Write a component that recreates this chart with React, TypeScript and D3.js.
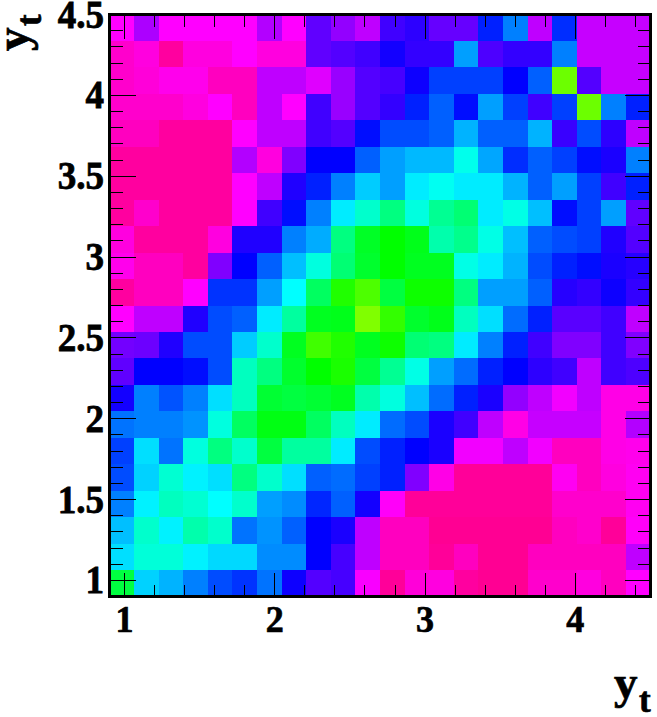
import React from "react";
import * as d3 from "d3";

const W = 657;
const H = 717;
const X_MIN = 0.9;
const X_MAX = 4.5;
const N_BINS = 22;

// Palette position per bin, rows from the top of the plot (y = 4.5) to the bottom (y = 0.9)
const row00 = [2, 3.3, 2, 2, 2, 2, 3.2, 2, 4.5, 3.7, 3, 5, 5.3, 4.4, 4.4, 6.5, 8, 3, 6.7, 2.9, 2.9, 2.9];
const row01 = [1.2, 1.5, 0.5, 1.5, 1.5, 2, 1.5, 1.5, 4.5, 4.7, 5, 5.7, 5.2, 5.2, 8.5, 4.8, 5.2, 5.2, 8, 2.9, 2.9, 2.9];
const row02 = [1.2, 1.4, 1.7, 1.7, 1, 1, 3, 3, 2.5, 3.6, 4.7, 4.9, 5.8, 7, 7, 7, 6, 7.5, 15.7, 4.7, 2.9, 2.9];
const row03 = [1.2, 1.2, 1.2, 1.5, 2, 1, 3, 2, 5, 3.6, 4.7, 5.2, 6.5, 7.5, 6.2, 8.5, 7, 5, 7, 15.7, 8, 6.5];
const row04 = [1, 1, 0.5, 0.5, 0.5, 2, 3, 3, 5, 4.7, 6.2, 7.2, 7.2, 7.5, 8.8, 7.5, 7.5, 8.8, 5.1, 7.2, 5.3, 3];
const row05 = [0.5, 0.5, 0.5, 0.5, 0.5, 3.2, 1.5, 4, 6, 6, 7.5, 8.5, 8.9, 8.9, 10.3, 8.6, 6.7, 7.5, 7, 6.2, 5.6, 8];
const row06 = [0.5, 0.5, 0.5, 0.5, 0.5, 2, 3, 5.5, 6.5, 8, 9.2, 8.5, 9.7, 10.2, 9.7, 9.7, 8.8, 7.5, 8.5, 7, 5, 6.5];
const row07 = [0.5, 1.2, 0.5, 0.5, 0.5, 2, 5, 6.2, 8, 9.7, 10.8, 12, 10.5, 11.7, 12.2, 9.7, 10.4, 9, 6.2, 7, 8.5, 4.5];
const row08 = [1.5, 0.5, 0.5, 0.5, 1.5, 5.5, 5.5, 8, 8.7, 12, 13.4, 14, 13.6, 11.3, 11.8, 10.4, 9, 7.5, 7.2, 7, 5.5, 4.7];
const row09 = [1.7, 1, 1, 0.5, 4, 6, 7.5, 9, 10.5, 12.2, 13.3, 14, 13.5, 13.5, 10.4, 9.7, 8.8, 7.2, 6.5, 6.2, 5.6, 5.4];
const row10 = [0.5, 1, 1, 2, 6.8, 6.8, 8.5, 10, 12.5, 14.5, 15.2, 13, 14.2, 14.2, 12, 8.5, 8.5, 7.5, 5.4, 5.2, 5.8, 5.2];
const row11 = [2, 3, 3, 5.5, 7.2, 7.5, 9.7, 11.5, 13.5, 13.6, 16, 14.8, 13.3, 13.6, 11, 9.5, 7.7, 6.5, 4.6, 4.6, 5, 3];
const row12 = [4.2, 4.3, 5.5, 7.2, 7.2, 9.2, 10.8, 13.5, 15, 14.5, 13.5, 14.2, 12.2, 12, 9.7, 8, 6.5, 5, 4, 4, 5, 4];
const row13 = [4.5, 6, 6, 6.2, 7.2, 11, 12, 13.3, 14, 14.4, 13, 11.7, 10.4, 8.5, 7.7, 6.5, 6, 5.3, 5, 3, 5, 4.8];
const row14 = [5.7, 8, 7.3, 8, 9.5, 11, 13.2, 13, 13.2, 13.5, 11.3, 10.5, 9, 7.7, 6.5, 5.6, 3.7, 3, 2.2, 3, 1.6, 1.6];
const row15 = [7.8, 8, 8, 8.3, 10.5, 12.5, 13.7, 13.7, 12.5, 11, 9.7, 7.7, 7.2, 5.6, 5, 3, 1.6, 2.9, 2.9, 2.9, 1.6, 3.2];
const row16 = [7, 9.5, 7.8, 10.5, 12, 10.8, 13, 11.5, 11.5, 9.7, 7.2, 6.5, 6, 5.6, 2.2, 2.2, 3, 2.2, 1, 1, 1.6, 1.7];
const row17 = [7.2, 9.3, 10.7, 9.8, 9.5, 12, 10.8, 9.5, 7.5, 7.7, 7, 6.5, 4, 1.6, 0.4, 0.4, 0.4, 0.4, 1.8, 1, 1.5, 1.8];
const row18 = [8, 9.8, 11, 10.7, 10, 10.8, 8.5, 8.2, 6.6, 7.5, 5.7, 1.9, 0.4, 0.4, 0.4, 0.4, 0.4, 0.4, 1.2, 1.2, 1.2, 1.8];
const row19 = [9, 10.8, 9.8, 11.3, 10.8, 7.8, 8.3, 7.5, 6, 5.6, 3, 1, 1, 0.3, 0.3, 0.3, 0.3, 0.3, 1, 1.2, 0.4, 1.9];
const row20 = [9.5, 10.6, 10.6, 9.8, 9.4, 9.4, 8.2, 8.2, 6, 4.9, 3, 1, 1, 0.4, 1, 0.3, 0.3, 1, 1, 1, 1, 3];
const row21 = [13, 9.3, 8.8, 8, 7.2, 6.8, 7.8, 5.8, 4.7, 4.9, 2.1, 0.4, 1.4, 1.5, 0.5, 0.3, 0.3, 1.2, 1.2, 1.5, 1, 2];
const rows = [row00, row01, row02, row03, row04, row05, row06, row07, row08, row09, row10, row11, row12, row13, row14, row15, row16, row17, row18, row19, row20, row21];

const xTickLabels = [1, 2, 3, 4];
const yTickLabels = ["1", "1.5", "2", "2.5", "3", "3.5", "4", "4.5"];

const FONT = "'Liberation Serif', 'Times New Roman', serif";

const x = d3.scaleLinear().domain([X_MIN, X_MAX]).range([109.5, 650.5]);
const y = d3.scaleLinear().domain([X_MIN, X_MAX]).range([596.5, 14.5]);
const hue = d3.scaleLinear().domain([0, 16]).range([330, 90]);
const color = (v: number) => d3.hsl(hue(v), 1, 0.5).formatHex();
const binW = (X_MAX - X_MIN) / N_BINS;

const xMinor = d3.range(1, 4.5, 0.2);
const yMinor = d3.range(1, 4.5, 0.1);
const isMajorX = (t: number) => Math.abs(t - Math.round(t)) < 1e-6;
const isMajorY = (t: number) => Math.abs(t * 2 - Math.round(t * 2)) < 1e-6;

export default function App() {
  return (
    <svg width={W} height={H} style={{ position: "absolute", left: 0, top: 0, background: "#fff" }} fontFamily={FONT} fontWeight="bold">
      <g shapeRendering="crispEdges">
        {rows.map((row, r) =>
          row.map((v, c) => {
            const y1 = X_MAX - r * binW;
            const y0 = y1 - binW;
            const x0 = X_MIN + c * binW;
            const px = x(x0);
            const py = y(y1);
            return <rect key={`${r}-${c}`} x={px} y={py} width={x(x0 + binW) - px + 0.5} height={y(y0) - py + 0.5} fill={color(v)} />;
          })
        )}
      </g>
      <g stroke="#000" strokeWidth={1} shapeRendering="crispEdges">
        {xMinor.map((t) => {
          const len = isMajorX(t) ? 24 : 12;
          return (
            <g key={`x${t}`}>
              <line x1={x(t)} x2={x(t)} y1={y.range()[0]} y2={y.range()[0] - len} />
              <line x1={x(t)} x2={x(t)} y1={y.range()[1]} y2={y.range()[1] + len} />
            </g>
          );
        })}
        {yMinor.map((t) => {
          const len = isMajorY(t) ? 26 : 13;
          return (
            <g key={`y${t}`}>
              <line x1={x.range()[0]} x2={x.range()[0] + len} y1={y(t)} y2={y(t)} />
              <line x1={x.range()[1]} x2={x.range()[1] - len} y1={y(t)} y2={y(t)} />
            </g>
          );
        })}
      </g>
      <rect x={x.range()[0]} y={y.range()[1]} width={x.range()[1] - x.range()[0]} height={y.range()[0] - y.range()[1]} fill="none" stroke="#000" strokeWidth={3} />
      <g stroke="#000" strokeWidth={0.7}>
        {xTickLabels.map((t) => (
          <text key={t} transform={`translate(${x(t)},632) scale(1,1.03)`} textAnchor="middle" fontSize={36}>
            {t}
          </text>
        ))}
        {yTickLabels.map((t) => (
          <text key={t} transform={`translate(104,${y(+t) + 13}) scale(1.03,1.14)`} textAnchor="end" fontSize={36}>
            {t}
          </text>
        ))}
        <text x={614} y={698} fontSize={47}>y</text>
        <text x={639} y={712} fontSize={35}>t</text>
        <text transform="translate(28,51) rotate(-90)" fontSize={47}>y</text>
        <text transform="translate(41,26) rotate(-90)" fontSize={35}>t</text>
      </g>
    </svg>
  );
}
